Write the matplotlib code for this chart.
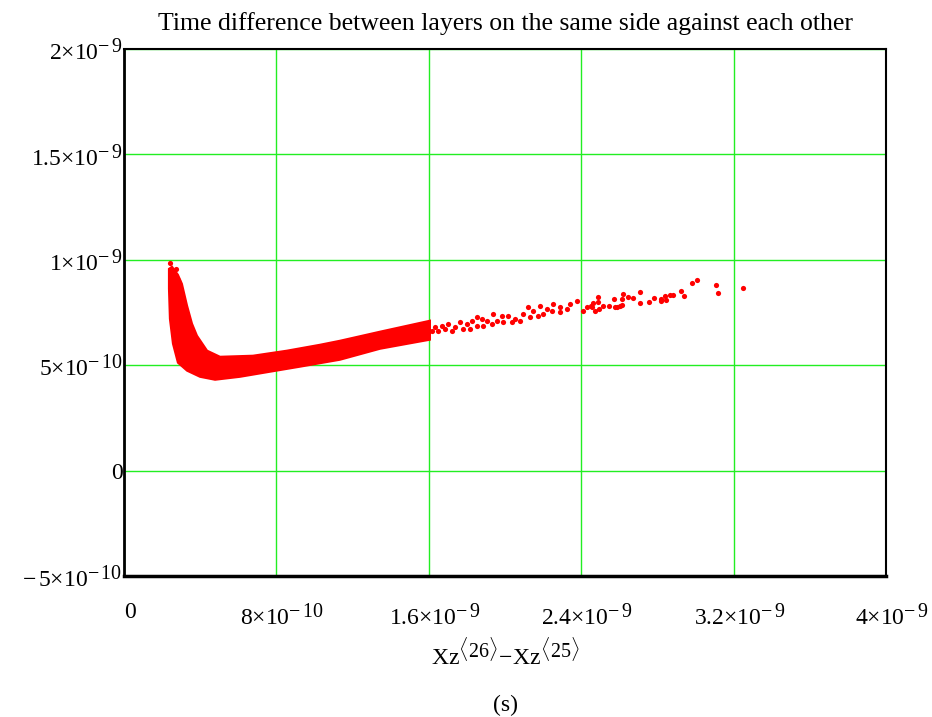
import numpy as np
import matplotlib.pyplot as plt
import matplotlib.transforms as mtransforms
import matplotlib._mathtext as mathtext_internal

plt.rcParams['font.family'] = 'Liberation Serif'
plt.rcParams['mathtext.fontset'] = 'custom'
plt.rcParams['mathtext.rm'] = 'Liberation Serif'
plt.rcParams['mathtext.it'] = 'Liberation Serif:italic'
# Mathcad draws exponents fairly large
mathtext_internal.SHRINK_FACTOR = 0.85

# values in units of 1e-10 s
# dense band outline (upper edge left->right, lower edge right->left)
band_up_x = [2.36, 2.52, 2.83, 3.04, 3.31, 3.57, 3.83, 4.36, 5.04, 6.77, 8.56, 10.29, 11.34, 13.44, 16.06]
band_up_y = [9.57, 9.67, 9.29, 8.86, 7.82, 6.97, 6.40, 5.69, 5.40, 5.45, 5.69, 5.97, 6.16, 6.59, 7.11]
band_lo_x = [16.06, 13.44, 11.34, 9.24, 7.66, 6.09, 4.78, 3.99, 3.31, 2.83, 2.57, 2.41, 2.36]
band_lo_y = [6.21, 5.78, 5.26, 4.93, 4.69, 4.45, 4.31, 4.45, 4.74, 5.12, 6.02, 7.20, 8.63]

# individual points
pts_x = [2.41, 2.73, 2.57, 2.83, 2.62,
         16.17, 16.32, 16.48, 16.69, 16.85, 17.01, 17.22, 17.37, 17.64, 17.79,
         18.00, 18.16, 18.27, 18.53, 18.53, 18.79, 18.84, 19.05, 19.32, 19.37,
         19.58, 19.84, 19.89, 20.16, 20.37, 20.52, 20.79, 20.94, 21.21, 21.31,
         21.47, 21.73, 21.84, 21.99, 22.20, 22.47, 22.52, 22.89, 22.89, 23.25,
         23.41, 23.78, 24.09, 24.30,
         24.51, 24.57, 24.62, 24.72, 24.88, 24.88, 24.93, 25.14, 25.46, 25.72,
         25.77, 25.88, 26.04, 26.14, 26.14, 26.19, 26.45, 26.72, 27.08, 27.08,
         27.56, 27.82, 28.19, 28.19, 28.40, 28.45, 28.66, 28.82, 29.24, 29.39,
         29.81, 30.08, 31.07, 31.18, 32.49]
pts_y = [9.86, 9.57, 9.29, 9.05, 8.70,
         6.63, 6.82, 6.63, 6.87, 6.73, 6.97, 6.63, 6.82, 7.06, 6.73,
         6.97, 6.73, 7.11, 7.30, 6.87, 7.20, 6.87, 7.11, 6.97, 7.44,
         7.11, 7.35, 7.06, 7.35, 7.06, 7.20, 7.11, 7.44, 7.77, 7.30,
         7.58, 7.35, 7.82, 7.44, 7.68, 7.58, 7.91, 7.77, 7.54, 7.68,
         7.91, 8.06, 7.58, 7.77,
         7.82, 7.77, 7.96, 7.58, 8.25, 8.01, 7.68, 7.82, 7.82, 8.15,
         7.77, 7.77, 7.82, 8.15, 7.87, 8.39, 8.25, 8.20, 8.48, 7.96,
         8.01, 8.20, 8.15, 8.06, 8.29, 8.10, 8.34, 8.34, 8.53, 8.29,
         8.91, 9.05, 8.81, 8.44, 8.67]

xticks = [0, 8e-10, 1.6e-9, 2.4e-9, 3.2e-9, 4e-9]
xlabels = ['0', r'$8{\times}10^{-\,10}$', r'$1.6{\times}10^{-\,9}$', r'$2.4{\times}10^{-\,9}$',
           r'$3.2{\times}10^{-\,9}$', r'$4{\times}10^{-\,9}$']
yticks = [-5e-10, 0, 5e-10, 1e-9, 1.5e-9, 2e-9]
ylabels = [r'$-\,5{\times}10^{-\,10}$', '0', r'$5{\times}10^{-\,10}$', r'$1{\times}10^{-\,9}$',
           r'$1.5{\times}10^{-\,9}$', r'$2{\times}10^{-\,9}$']

fig = plt.figure(figsize=(9.32, 7.17), dpi=100)
ax = fig.add_axes([124 / 932, 1 - 576 / 717, 762 / 932, 527 / 717])

sc = 1e-10
bx = np.concatenate([band_up_x, band_lo_x]) * sc
by = np.concatenate([band_up_y, band_lo_y]) * sc
ax.fill(bx, by, color='#ff0000', lw=1.5, ec='#ff0000', zorder=3)
ax.scatter(np.array(pts_x) * sc, np.array(pts_y) * sc, s=14, color='#ff0000', lw=0, zorder=3)

ax.set_xlim(0, 4e-9)
ax.set_ylim(-5e-10, 2e-9)
ax.set_xticks(xticks, xlabels, fontsize=17)
ax.set_yticks(yticks, ylabels, fontsize=17)
ax.tick_params(axis='x', length=0, pad=19)
ax.tick_params(axis='y', length=0, pad=1)
shift = mtransforms.ScaledTranslation(6 / 100, 0, fig.dpi_scale_trans)
for lab in ax.get_xticklabels():
    lab.set_transform(lab.get_transform() + shift)
ax.grid(True, color='#22ee22', lw=1)
for s in ax.spines.values():
    s.set_linewidth(1.5)
ax.spines['bottom'].set_linewidth(2.5)
ax.spines['left'].set_linewidth(2)

ax.set_title('Time difference between layers on the same side against each other', fontsize=18.5, pad=14)
fig.text(505 / 932, 1 - 654 / 717, r'$\mathrm{Xz}^{\langle 26\rangle}\!-\!\mathrm{Xz}^{\langle 25\rangle}$',
         fontsize=17, ha='center', va='center')
fig.text(505 / 932, 1 - 705 / 717, '(s)', fontsize=17, ha='center', va='center')

fig.savefig('out.png', dpi=100)
